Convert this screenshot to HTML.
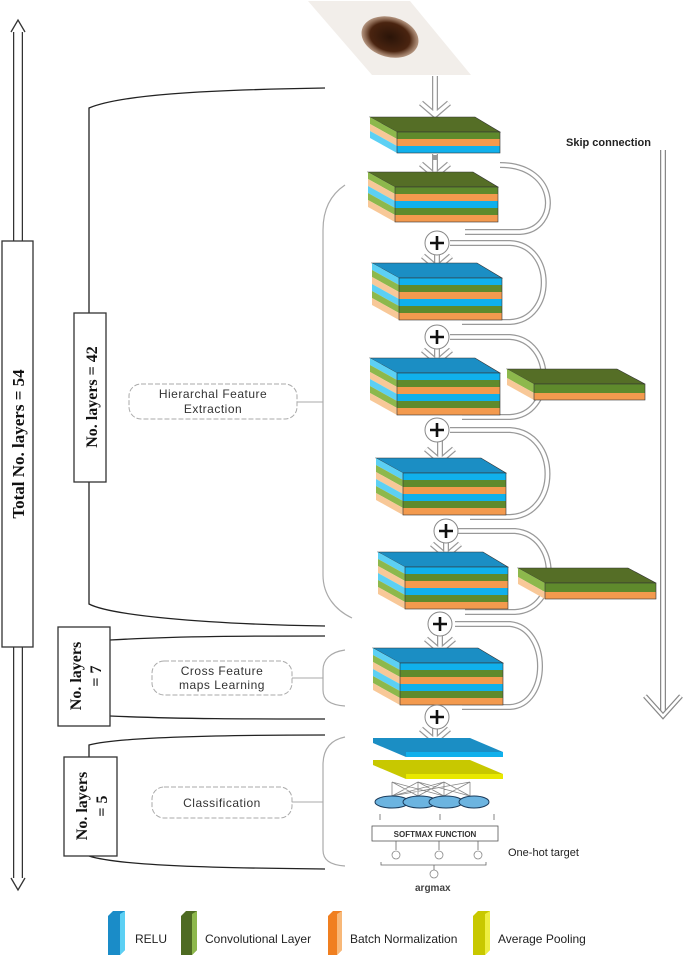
<!DOCTYPE html>
<html><head><meta charset="utf-8"><style>
html,body{margin:0;padding:0;background:#fff;width:685px;height:969px;overflow:hidden}
svg{display:block}
text{font-family:"Liberation Sans",sans-serif}
</style></head><body>
<svg width="685" height="969" viewBox="0 0 685 969" xmlns="http://www.w3.org/2000/svg">
<defs>
<radialGradient id="blob" cx="50%" cy="50%" r="50%">
<stop offset="0" stop-color="#2a1408"/><stop offset="0.7" stop-color="#4a2410"/><stop offset="1" stop-color="#8a5a3a" stop-opacity="0.6"/>
</radialGradient>
<g id="Lg"><polygon points="0,-15 27,0 27,7 0,-8" fill="#8db84c"/><rect x="27" y="0" width="103" height="7" fill="#5f8a2c"/></g>
<g id="Lo"><polygon points="0,-15 27,0 27,7 0,-8" fill="#f8c898"/><rect x="27" y="0" width="103" height="7" fill="#f39a4e"/></g>
<g id="Lb"><polygon points="0,-15 27,0 27,7 0,-8" fill="#5cd0f4"/><rect x="27" y="0" width="103" height="7" fill="#10b0ec"/></g>
<polygon id="Tg" points="0,0 105,0 130,15 27,15" fill="#556e26" stroke="#333" stroke-width="0.6"/>
<polygon id="Tb" points="0,0 105,0 130,15 27,15" fill="#1b8ec4" stroke="#333" stroke-width="0.6"/>
<g id="arrow"><path d="M0,-22 V0 M-14,-12 L0,0 L14,-12" fill="none" stroke="#999" stroke-width="6"/><path d="M0,-22 V0 M-14,-12 L0,0 L14,-12" fill="none" stroke="#fff" stroke-width="3.5"/></g>
<g id="plus"><circle r="12" fill="#fff" stroke="#888" stroke-width="1"/><path d="M-7,0 H7 M0,-7 V7" stroke="#111" stroke-width="2.6"/></g>
</defs>

<!-- left total arrow -->
<path d="M18,30 V880" stroke="#333" stroke-width="10"/>
<path d="M18,30 V880" stroke="#fff" stroke-width="7.5"/>
<path d="M11,32 L18,20 L25,32" fill="#fff" stroke="#333" stroke-width="1.3"/>
<path d="M11,878 L18,890 L25,878" fill="#fff" stroke="#333" stroke-width="1.3"/>
<rect x="2" y="241" width="31" height="406" fill="#fff" stroke="#333" stroke-width="1.3"/>
<text transform="translate(24,444) rotate(-90)" text-anchor="middle" font-family="Liberation Serif" font-weight="bold" font-size="17" fill="#111" style="font-family:'Liberation Serif',serif">Total No. layers = 54</text>

<!-- brackets -->
<path d="M325,88 C200,90 120,95 89,108 V313 M89,482 V604 C110,615 200,624 325,626" fill="none" stroke="#222" stroke-width="1.3"/>
<rect x="74" y="313" width="32" height="169" fill="#fff" stroke="#333" stroke-width="1.3"/>
<text transform="translate(97,397) rotate(-90)" text-anchor="middle" font-weight="bold" font-size="16" fill="#111" style="font-family:'Liberation Serif',serif">No. layers = 42</text>

<path d="M110,640 C180,636 250,636 325,636 M110,716 C180,719 250,719 325,719" fill="none" stroke="#222" stroke-width="1.3"/>
<rect x="58" y="627" width="52" height="99" fill="#fff" stroke="#333" stroke-width="1.3"/>
<text transform="translate(81,676) rotate(-90)" text-anchor="middle" font-weight="bold" font-size="16" fill="#111" style="font-family:'Liberation Serif',serif">No. layers</text>
<text transform="translate(101,676) rotate(-90)" text-anchor="middle" font-weight="bold" font-size="16" fill="#111" style="font-family:'Liberation Serif',serif">= 7</text>

<path d="M89,757 V745 C120,737 220,735 325,735 M89,856 C120,866 220,868 325,869" fill="none" stroke="#222" stroke-width="1.3"/>
<rect x="64" y="757" width="53" height="99" fill="#fff" stroke="#333" stroke-width="1.3"/>
<text transform="translate(87,806) rotate(-90)" text-anchor="middle" font-weight="bold" font-size="16" fill="#111" style="font-family:'Liberation Serif',serif">No. layers</text>
<text transform="translate(107,806) rotate(-90)" text-anchor="middle" font-weight="bold" font-size="16" fill="#111" style="font-family:'Liberation Serif',serif">= 5</text>

<!-- inner gray braces -->
<path d="M345,185 C330,195 323,210 323,230 V575 C323,595 335,610 352,618" fill="none" stroke="#aaa" stroke-width="1.2"/>
<path d="M297,402 H323" stroke="#aaa" stroke-width="1"/>
<path d="M345,650 C330,652 323,660 323,670 V690 C323,700 330,705 345,706" fill="none" stroke="#aaa" stroke-width="1.2"/>
<path d="M292,678 H323" stroke="#aaa" stroke-width="1"/>
<path d="M345,737 C330,740 323,750 323,765 V850 C323,860 330,865 345,866" fill="none" stroke="#aaa" stroke-width="1.2"/>
<path d="M292,802 H323" stroke="#aaa" stroke-width="1"/>

<!-- labels -->
<rect x="129" y="384" width="168" height="35" rx="12" fill="#fff" stroke="#aaa" stroke-dasharray="5,2" stroke-width="1"/>
<text x="213" y="398" text-anchor="middle" font-size="12" fill="#333" letter-spacing="0.5">Hierarchal Feature</text>
<text x="213" y="413" text-anchor="middle" font-size="12" fill="#333" letter-spacing="0.5">Extraction</text>
<rect x="152" y="661" width="140" height="34" rx="12" fill="#fff" stroke="#aaa" stroke-dasharray="5,2" stroke-width="1"/>
<text x="222" y="675" text-anchor="middle" font-size="12" fill="#333" letter-spacing="0.5">Cross Feature</text>
<text x="222" y="689" text-anchor="middle" font-size="12" fill="#333" letter-spacing="0.5">maps Learning</text>
<rect x="152" y="787" width="140" height="31" rx="12" fill="#fff" stroke="#aaa" stroke-dasharray="5,2" stroke-width="1"/>
<text x="222" y="807" text-anchor="middle" font-size="12" fill="#333" letter-spacing="0.5">Classification</text>

<!-- input image -->
<polygon points="308,1 410,1 471,75 372,75" fill="#f2eeea"/>
<ellipse cx="390" cy="37" rx="29" ry="20" fill="url(#blob)" transform="rotate(15 390 37)"/>

<!-- big right arrow -->
<path d="M663,150 V712" stroke="#888" stroke-width="6"/>
<path d="M663,150 V712" stroke="#fff" stroke-width="3.5"/>
<path d="M645,696 L663,716 L681,696" fill="none" stroke="#888" stroke-width="5"/>
<path d="M645,696 L663,716 L681,696" fill="none" stroke="#fff" stroke-width="2.5"/>
<text x="566" y="146" font-size="11" font-weight="bold" fill="#222">Skip connection</text>

<!-- skip curves -->
<g fill="none">
<g stroke="#999" stroke-width="6">
<path d="M500,165 C560,165 560,230 520,232 H465"/>
<path d="M450,243 H510 C555,245 555,320 510,322 H462"/>
<path d="M450,337 H510 C555,340 555,415 510,417 H462"/>
<path d="M450,430 H510 C560,433 560,515 510,517 H470"/>
<path d="M458,531 H515 C560,535 560,610 515,612 H465"/>
<path d="M455,624 H510 C550,628 550,705 510,707 H462"/>
</g>
<g stroke="#fff" stroke-width="3.5">
<path d="M500,165 C560,165 560,230 520,232 H465"/>
<path d="M450,243 H510 C555,245 555,320 510,322 H462"/>
<path d="M450,337 H510 C555,340 555,415 510,417 H462"/>
<path d="M450,430 H510 C560,433 560,515 510,517 H470"/>
<path d="M458,531 H515 C560,535 560,610 515,612 H465"/>
<path d="M455,624 H510 C550,628 550,705 510,707 H462"/>
</g>
</g>

<!-- arrows -->
<use href="#arrow" x="435" y="115"/>
<path d="M435,76 V95" stroke="#999" stroke-width="6"/><path d="M435,76 V95" stroke="#fff" stroke-width="3.5"/>
<use href="#arrow" x="435" y="176"/>
<path d="M435,155 V160" stroke="#999" stroke-width="4"/>
<use href="#arrow" x="437" y="268"/>
<use href="#arrow" x="437" y="362"/>
<use href="#arrow" x="440" y="461"/>
<use href="#arrow" x="446" y="556"/>
<use href="#arrow" x="440" y="651"/>
<use href="#arrow" x="435" y="741"/>

<!-- stack 1 -->
<g transform="translate(370,117)">
<use href="#Tg"/><use href="#Lg" y="15"/><use href="#Lo" y="22"/><use href="#Lb" y="29"/>
<rect x="27" y="15" width="103" height="21" fill="none" stroke="#333" stroke-width="0.6"/>
</g>
<!-- stack 2 -->
<g transform="translate(368,172)">
<use href="#Tg"/><use href="#Lg" y="15"/><use href="#Lo" y="22"/><use href="#Lb" y="29"/><use href="#Lg" y="36"/><use href="#Lo" y="43"/>
<rect x="27" y="15" width="103" height="35" fill="none" stroke="#333" stroke-width="0.6"/>
</g>
<use href="#plus" x="437" y="243"/>
<!-- stack 3 -->
<g transform="translate(372,263)">
<use href="#Tb"/><use href="#Lb" y="15"/><use href="#Lg" y="22"/><use href="#Lo" y="29"/><use href="#Lb" y="36"/><use href="#Lg" y="43"/><use href="#Lo" y="50"/>
<rect x="27" y="15" width="103" height="42" fill="none" stroke="#333" stroke-width="0.6"/>
</g>
<use href="#plus" x="437" y="337"/>
<!-- stack 4 -->
<g transform="translate(370,358)">
<use href="#Tb"/><use href="#Lb" y="15"/><use href="#Lg" y="22"/><use href="#Lo" y="29"/><use href="#Lb" y="36"/><use href="#Lg" y="43"/><use href="#Lo" y="50"/>
<rect x="27" y="15" width="103" height="42" fill="none" stroke="#333" stroke-width="0.6"/>
</g>
<!-- side slab 1 -->
<g transform="translate(507,369)">
<polygon points="0,0 110,0 138,15 27,15" fill="#556e26" stroke="#333" stroke-width="0.6"/>
<polygon points="0,0 27,15 27,24 0,9" fill="#8db84c"/><polygon points="0,9 27,24 27,31 0,16" fill="#f8c898"/>
<rect x="27" y="15" width="111" height="9" fill="#5f8a2c"/><rect x="27" y="24" width="111" height="7" fill="#f39a4e"/>
<rect x="27" y="15" width="111" height="16" fill="none" stroke="#333" stroke-width="0.6"/>
</g>
<use href="#plus" x="437" y="430"/>
<!-- stack 5 -->
<g transform="translate(376,458)">
<use href="#Tb"/><use href="#Lb" y="15"/><use href="#Lg" y="22"/><use href="#Lo" y="29"/><use href="#Lb" y="36"/><use href="#Lg" y="43"/><use href="#Lo" y="50"/>
<rect x="27" y="15" width="103" height="42" fill="none" stroke="#333" stroke-width="0.6"/>
</g>
<use href="#plus" x="446" y="531"/>
<!-- stack 6 -->
<g transform="translate(378,552)">
<use href="#Tb"/><use href="#Lb" y="15"/><use href="#Lg" y="22"/><use href="#Lo" y="29"/><use href="#Lb" y="36"/><use href="#Lg" y="43"/><use href="#Lo" y="50"/>
<rect x="27" y="15" width="103" height="42" fill="none" stroke="#333" stroke-width="0.6"/>
</g>
<!-- side slab 2 -->
<g transform="translate(518,568)">
<polygon points="0,0 110,0 138,15 27,15" fill="#556e26" stroke="#333" stroke-width="0.6"/>
<polygon points="0,0 27,15 27,24 0,9" fill="#8db84c"/><polygon points="0,9 27,24 27,31 0,16" fill="#f8c898"/>
<rect x="27" y="15" width="111" height="9" fill="#5f8a2c"/><rect x="27" y="24" width="111" height="7" fill="#f39a4e"/>
<rect x="27" y="15" width="111" height="16" fill="none" stroke="#333" stroke-width="0.6"/>
</g>
<use href="#plus" x="440" y="624"/>
<!-- stack 7 -->
<g transform="translate(373,648)">
<use href="#Tb"/><use href="#Lb" y="15"/><use href="#Lg" y="22"/><use href="#Lo" y="29"/><use href="#Lb" y="36"/><use href="#Lg" y="43"/><use href="#Lo" y="50"/>
<rect x="27" y="15" width="103" height="42" fill="none" stroke="#333" stroke-width="0.6"/>
</g>
<use href="#plus" x="437" y="717"/>

<!-- classification head -->
<polygon points="373,738 470,738 503,752 503,757 406,757 373,743" fill="#1b8ec4"/>
<polygon points="406,752 503,752 503,757 406,757" fill="#10b0ec"/>
<polygon points="373,760 470,760 503,774 503,779 406,779 373,765" fill="#c8c800"/>
<polygon points="406,774 503,774 503,779 406,779" fill="#e8e800"/>
<g stroke="#888" stroke-width="0.8">
<path d="M392,796 L418,782 M392,796 L444,782 M392,796 L470,782 M418,796 L392,782 M418,796 L444,782 M444,796 L418,782 M444,796 L470,782 M444,796 L392,782 M470,796 L444,782 M470,796 L418,782 M392,782 V796 M418,782 V796 M444,782 V796 M470,782 V796"/>
</g>
<g fill="#6cb4e0" stroke="#1a3a5a" stroke-width="1">
<ellipse cx="392" cy="802" rx="17" ry="6"/><ellipse cx="418" cy="802" rx="17" ry="6" transform="translate(2,0)"/><ellipse cx="446" cy="802" rx="17" ry="6"/><ellipse cx="488" cy="802" rx="15" ry="6" transform="translate(-14,0)"/>
</g>
<path d="M380,814 V820 M440,814 V820 M494,814 V820" stroke="#666" stroke-width="0.8"/>
<rect x="372" y="826" width="126" height="15" fill="#fff" stroke="#555" stroke-width="0.8"/>
<text x="435" y="837" text-anchor="middle" font-size="8" font-weight="bold" fill="#333">SOFTMAX FUNCTION</text>
<path d="M396,841 V850 M439,841 V850 M478,841 V850" stroke="#666" stroke-width="0.8"/>
<g fill="#fff" stroke="#888" stroke-width="0.8"><circle cx="396" cy="855" r="4"/><circle cx="439" cy="855" r="4"/><circle cx="478" cy="855" r="4"/><circle cx="434" cy="874" r="4"/></g>
<path d="M381,862 V865 H486 V862 M434,865 V870" fill="none" stroke="#666" stroke-width="0.8"/>
<text x="508" y="856" font-size="11" fill="#222">One-hot target</text>
<text x="415" y="891" font-size="10" font-weight="bold" fill="#444">argmax</text>

<!-- legend -->
<polygon points="108,916 113,911 125,911 125,950 120,955 108,955" fill="#1a8cc8"/>
<polygon points="120,914 125,911 125,950 120,955" fill="#5cd0f4"/>
<text x="135" y="943" font-size="12" fill="#222">RELU</text>
<polygon points="181,916 186,911 197,911 197,950 192,955 181,955" fill="#4e6b22"/>
<polygon points="192,914 197,911 197,950 192,955" fill="#8db84c"/>
<text x="205" y="943" font-size="12" fill="#222">Convolutional Layer</text>
<polygon points="328,916 333,911 342,911 342,950 337,955 328,955" fill="#f07f20"/>
<polygon points="337,914 342,911 342,950 337,955" fill="#f8b878"/>
<text x="350" y="943" font-size="12" fill="#222">Batch Normalization</text>
<polygon points="473,916 478,911 490,911 490,950 485,955 473,955" fill="#c8c800"/>
<polygon points="485,914 490,911 490,950 485,955" fill="#eeee40"/>
<text x="498" y="943" font-size="12" fill="#222">Average Pooling</text>
</svg>
</body></html>
